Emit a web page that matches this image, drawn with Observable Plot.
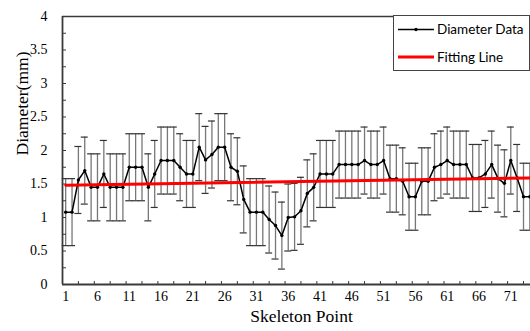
<!DOCTYPE html>
<html>
<head>
<meta charset="utf-8">
<script src="https://cdn.jsdelivr.net/npm/d3@7"></script>
<script src="https://cdn.jsdelivr.net/npm/@observablehq/plot@0.6"></script>
<style>
  body { margin: 0; background: #fff; }
  #wrap { position: relative; width: 530px; height: 331px; }
  #wrap svg, #wrap svg text, #wrap svg g { font-family: "Liberation Serif", "Times New Roman", "DejaVu Serif", serif !important; }
  #legend { position: absolute; left: 393px; top: 15px; width: 135px; height: 54px; border: 1px solid #444; background: #fff; font-family: Lato, "Open Sans", sans-serif; font-size: 13.5px; color: #000; }
  #legend svg { position: absolute; left: 0; top: 0; }
  #legend span { position: absolute; left: 43px; line-height: 16px; white-space: nowrap; }
</style>
</head>
<body>
<div id="wrap"></div>
<script>
// Diameter value at each skeleton point (mm)
const diameter = [
  1.08, 1.08, 1.56, 1.70, 1.45, 1.45, 1.65, 1.45, 1.45, 1.45,
  1.75, 1.75, 1.75, 1.45, 1.65, 1.85, 1.85, 1.85, 1.75, 1.65,
  1.65, 2.05, 1.86, 1.94, 2.05, 2.05, 1.75, 1.69, 1.27, 1.08,
  1.08, 1.08, 0.97, 0.88, 0.73, 1.00, 1.01, 1.10, 1.36, 1.45,
  1.65, 1.65, 1.65, 1.79, 1.79, 1.79, 1.79, 1.85, 1.79, 1.79,
  1.85, 1.58, 1.58, 1.54, 1.31, 1.31, 1.54, 1.54, 1.75, 1.79,
  1.85, 1.79, 1.79, 1.79, 1.59, 1.59, 1.65, 1.79, 1.58, 1.51,
  1.85, 1.59, 1.31, 1.31
];
// Error bar half-length (mm)
const errorHalf = 0.5;
// Fitting line end points
const fitPoints = [1, 74];
const fitValues = [1.48, 1.59];
// Tick labels
const xTickLabels = [1, 6, 11, 16, 21, 26, 31, 36, 41, 46, 51, 56, 61, 66, 71];
const yTickLabels = [0, 0.5, 1, 1.5, 2, 2.5, 3, 3.5, 4];

const data = diameter.map((v, i) => ({point: i + 1, v}));
const fit = fitPoints.map((p, i) => ({point: p, v: fitValues[i]}));

const axisColor = "#3a3a3a";
const barColor = "#777";
const capColor = "#333";
const serif = "Liberation Serif";

const chart = Plot.plot({
  width: 530,
  height: 331,
  marginLeft: 62,
  marginRight: 0,
  marginTop: 16,
  marginBottom: 47,
  style: "font-family: 'Liberation Serif', serif; font-size: 14px; color: #000; background: #fff;",
  x: {domain: [0.5, 74.1]},
  y: {domain: [0, 4]},
  marks: [
    // error bars
    Plot.ruleX(data, {x: "point", y1: d => d.v - errorHalf, y2: d => d.v + errorHalf, stroke: barColor, strokeWidth: 1.3}),
    Plot.ruleY(data, {y: d => d.v - errorHalf, x1: "point", x2: "point", insetLeft: -3.5, insetRight: -3.5, stroke: capColor, strokeWidth: 1.2}),
    Plot.ruleY(data, {y: d => d.v + errorHalf, x1: "point", x2: "point", insetLeft: -3.5, insetRight: -3.5, stroke: capColor, strokeWidth: 1.2}),
    // data line
    Plot.line(data, {x: "point", y: "v", stroke: "#000", strokeWidth: 1.5}),
    Plot.dot(data, {x: "point", y: "v", r: 1.7, fill: "#000", stroke: null}),
    // fitting line
    Plot.line(fit, {x: "point", y: "v", stroke: "#ff0000", strokeWidth: 3}),
    // frame lines
    Plot.ruleX([0.5], {stroke: axisColor, strokeWidth: 1.8}),
    Plot.ruleY([0], {stroke: axisColor, strokeWidth: 1.8}),
    Plot.ruleY([4], {stroke: axisColor, strokeWidth: 1.5}),
    // y axis
    Plot.axisY({ticks: yTickLabels, tickSize: 0, tickPadding: 15, label: null, fontSize: 14, fontFamily: serif, tickFormat: d => String(d)}),
    Plot.axisY({ticks: d3.range(0.25, 4, 0.25), tickSize: -4, tickFormat: () => "", label: null, stroke: axisColor}),
    // x axis
    Plot.axisX({ticks: xTickLabels, tickSize: 0, tickPadding: 7, label: null, fontSize: 14, fontFamily: serif, tickFormat: d => String(d)}),
    Plot.axisX({ticks: d3.range(3, 74, 2.5), tickSize: -3, tickFormat: () => "", label: null, stroke: axisColor}),
    // titles
    Plot.text(["Diameter(mm)"], {frameAnchor: "left", dx: -40, dy: 5, rotate: -90, text: d => d, fontSize: 17.5, fontFamily: serif, fill: "#000"}),
    Plot.text(["Skeleton Point"], {frameAnchor: "bottom", dx: 5, dy: 37, text: d => d, fontSize: 17.5, fontFamily: serif, fill: "#000"})
  ]
});

const wrap = document.getElementById("wrap");
wrap.appendChild(chart);

const legend = document.createElement("div");
legend.id = "legend";
legend.innerHTML = `
  <svg width="135" height="54">
    <line x1="4" x2="40" y1="13.5" y2="13.5" stroke="#000" stroke-width="1.5"/>
    <circle cx="22" cy="13.5" r="1.7" fill="#000"/>
    <line x1="4" x2="40" y1="41" y2="41" stroke="#ff0000" stroke-width="3"/>
  </svg>
  <span style="top:5px">Diameter Data</span>
  <span style="top:33px">Fitting Line</span>`;
wrap.appendChild(legend);
</script>
</body>
</html>
